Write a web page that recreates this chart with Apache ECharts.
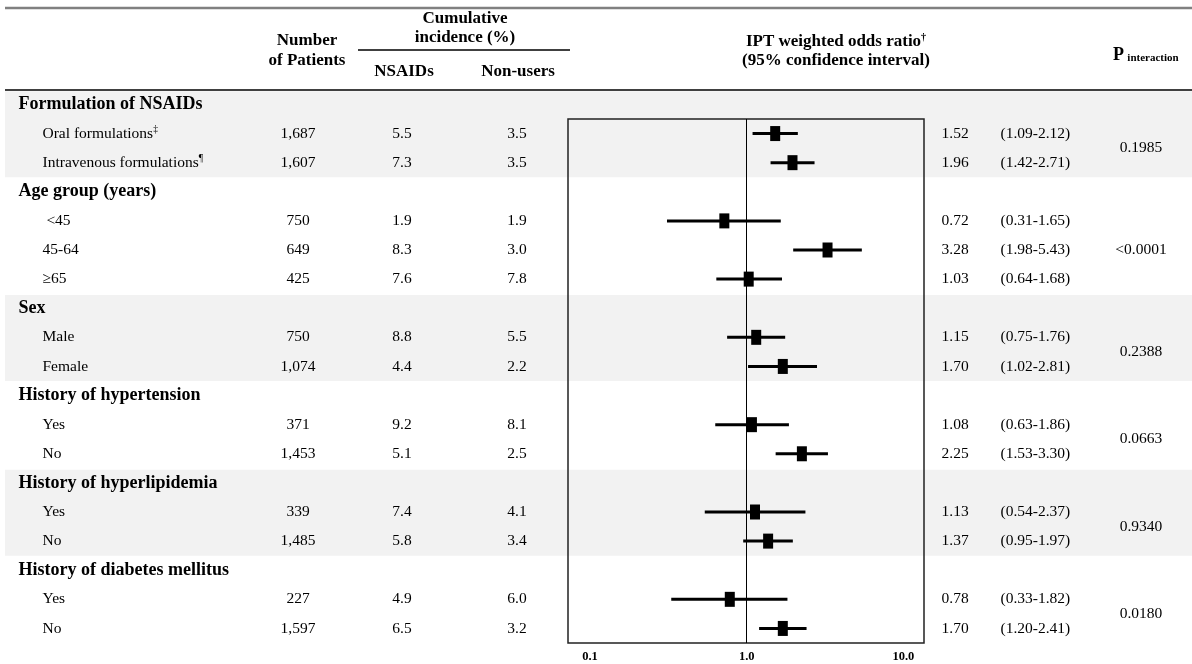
<!DOCTYPE html>
<html><head><meta charset="utf-8">
<script src="https://cdn.jsdelivr.net/npm/echarts@6/dist/echarts.min.js"></script>
<style>html,body{margin:0;padding:0;background:#fff}#c{width:1192px;height:664px}</style>
</head><body><div id="c"></div>
<script>
// ---------------- data ----------------
const groupNames = ['Formulation of NSAIDs', 'Age group (years)', 'Sex', 'History of hypertension', 'History of hyperlipidemia', 'History of diabetes mellitus'];
const subgroupLabels = ['Oral formulations', 'Intravenous formulations', ' <45', '45-64', '\u226565', 'Male', 'Female', 'Yes', 'No', 'Yes', 'No', 'Yes', 'No'];
const subgroupMarks = ['\u2021', '\u00b6', '', '', '', '', '', '', '', '', '', '', ''];
const subgroupGroup = [0, 0, 1, 1, 1, 2, 2, 3, 3, 4, 4, 5, 5];
const patients = [1687, 1607, 750, 649, 425, 750, 1074, 371, 1453, 339, 1485, 227, 1597];
const incidenceNSAIDs = ['5.5', '7.3', '1.9', '8.3', '7.6', '8.8', '4.4', '9.2', '5.1', '7.4', '5.8', '4.9', '6.5'];
const incidenceNonUsers = ['3.5', '3.5', '1.9', '3.0', '7.8', '5.5', '2.2', '8.1', '2.5', '4.1', '3.4', '6.0', '3.2'];
const oddsRatio = [1.52, 1.96, 0.72, 3.28, 1.03, 1.15, 1.70, 1.08, 2.25, 1.13, 1.37, 0.78, 1.70];
const ciLow = [1.09, 1.42, 0.31, 1.98, 0.64, 0.75, 1.02, 0.63, 1.53, 0.54, 0.95, 0.33, 1.20];
const ciHigh = [2.12, 2.71, 1.65, 5.43, 1.68, 1.76, 2.81, 1.86, 3.30, 2.37, 1.97, 1.82, 2.41];
const pInteraction = ['0.1985', '<0.0001', '0.2388', '0.0663', '0.9340', '0.0180'];
const shadedGroups = [0, 2, 4];
const axisTickValues = [0.1, 1, 10];
const axisTickLabels = ['0.1', '1.0', '10.0'];

// ---------------- layout ----------------
const FONT = 'Liberation Serif';
const INK = '#000';
const fmtNum = n => n.toLocaleString('en-US');
const fmt2 = n => n.toFixed(2);

const groupRow = [];
const subRow = [];
let r = 0;
groupNames.forEach((g, gi) => {
  groupRow.push(r++);
  subgroupGroup.forEach((sg, si) => { if (sg === gi) subRow[si] = r++; });
});
const nRows = r;
const groupEnd = groupNames.map((g, gi) => Math.max(...subRow.filter((x, si) => subgroupGroup[si] === gi)));
const pRow = groupNames.map((g, gi) => {
  const rows = subRow.filter((x, si) => subgroupGroup[si] === gi);
  return rows.reduce((a, b) => a + b, 0) / rows.length;
});

const COL = { group: 18, sub: 42, patients: 298, nsaid: 402, nonuser: 517, or: 941, ci: 1000, p: 1141 };

const FOREST = { left: 568, top: 119, width: 356, height: 524 };
const rowH = FOREST.height / (nRows - 1);
const TABLE_TOP = FOREST.top - rowH;

const ROW_FS = 15.5;
const baseLabel = { fontFamily: FONT, fontSize: ROW_FS, color: INK };

function textSeries(name, data, align, extra) {
  return {
    name, type: 'scatter', xAxisIndex: 0, yAxisIndex: 0,
    symbolSize: 1, itemStyle: { color: 'rgba(0,0,0,0)', opacity: 1 }, silent: true, z: 3,
    data,
    label: Object.assign({
      show: true,
      position: align === 'left' ? 'right' : 'inside',
      distance: 0,
      formatter: p => p.value[2]
    }, baseLabel, extra || {})
  };
}

const shadeAreas = shadedGroups.map(gi => [
  { xAxis: 5, yAxis: groupRow[gi] - 0.45 },
  { xAxis: 1192, yAxis: groupEnd[gi] + 0.5 }
]);

const series = [
  {
    name: 'shade', type: 'scatter', xAxisIndex: 0, yAxisIndex: 0, data: [], silent: true, z: 0,
    markArea: { silent: true, itemStyle: { color: '#f2f2f2', opacity: 1 }, data: shadeAreas }
  },
  textSeries('groups', groupNames.map((g, gi) => [COL.group, groupRow[gi], g]), 'left', { fontWeight: 'bold', fontSize: 18 }),
  textSeries('subgroups', subgroupLabels.map((s, si) => [COL.sub, subRow[si], s, subgroupMarks[si]]), 'left', {
    formatter: p => p.value[3] ? p.value[2] + '{sup|' + p.value[3] + '}' : p.value[2],
    lineHeight: 19,
    rich: { sup: { fontFamily: FONT, fontSize: 9.5, verticalAlign: 'top', lineHeight: 19, color: INK } }
  }),
  textSeries('patients', patients.map((v, si) => [COL.patients, subRow[si], fmtNum(v)]), 'center'),
  textSeries('nsaids', incidenceNSAIDs.map((v, si) => [COL.nsaid, subRow[si], v]), 'center'),
  textSeries('nonusers', incidenceNonUsers.map((v, si) => [COL.nonuser, subRow[si], v]), 'center'),
  textSeries('or', oddsRatio.map((v, si) => [COL.or, subRow[si], fmt2(v)]), 'left'),
  textSeries('ci', ciLow.map((v, si) => [COL.ci, subRow[si], '(' + fmt2(v) + '-' + fmt2(ciHigh[si]) + ')']), 'left'),
  textSeries('p', pInteraction.map((v, gi) => [COL.p, pRow[gi], v]), 'center'),
  {
    name: 'ci-lines', type: 'custom', xAxisIndex: 1, yAxisIndex: 1, silent: true, z: 4,
    data: ciLow.map((v, si) => [v, ciHigh[si], subRow[si]]),
    encode: { x: [0, 1], y: 2 },
    renderItem: (params, api) => {
      const a = api.coord([api.value(0), api.value(2)]);
      const b = api.coord([api.value(1), api.value(2)]);
      return { type: 'line', shape: { x1: a[0], y1: a[1], x2: b[0], y2: b[1] }, style: { stroke: '#000', lineWidth: 3 } };
    }
  },
  {
    name: 'odds-ratio', type: 'scatter', xAxisIndex: 1, yAxisIndex: 1, silent: true, z: 5,
    symbol: 'rect', symbolSize: [10, 15], itemStyle: { color: '#000', opacity: 1 },
    data: oddsRatio.map((v, si) => [v, subRow[si]]),
    markLine: {
      silent: true, symbol: ['none', 'none'], label: { show: false },
      lineStyle: { color: '#000', width: 1, type: 'solid', opacity: 1 },
      data: [{ xAxis: 1 }]
    }
  }
];

const HDR = 'bold 17px "Liberation Serif"';
const hdrText = (x, y, text) => ({ type: 'text', z: 100, x, y, style: { text, font: HDR, fill: INK, textAlign: 'center', textVerticalAlign: 'middle' } });

const option = {
  animation: false,
  backgroundColor: '#fff',
  grid: [
    { left: 0, right: 0, top: TABLE_TOP, height: rowH * nRows, show: false },
    { left: FOREST.left, top: FOREST.top, width: FOREST.width, height: FOREST.height, show: true,
      borderColor: '#222', borderWidth: 1.5, backgroundColor: 'rgba(0,0,0,0)', z: 5 }
  ],
  xAxis: [
    { gridIndex: 0, type: 'value', min: 0, max: 1192, show: false },
    { gridIndex: 1, type: 'log', logBase: 10,
      min: Math.pow(10, -1.1404), max: Math.pow(10, 1.1315),
      axisLine: { show: false }, axisTick: { show: false }, splitLine: { show: false },
      axisLabel: {
        customValues: axisTickValues,
        formatter: v => axisTickLabels[axisTickValues.findIndex(t => Math.abs(t - v) < 1e-9)] || '',
        fontFamily: FONT, fontSize: 12.5, fontWeight: 'bold', color: INK, margin: 7
      }
    }
  ],
  yAxis: [
    { gridIndex: 0, type: 'value', inverse: true, min: -0.5, max: nRows - 0.5, show: false },
    { gridIndex: 1, type: 'value', inverse: true, min: 0.5, max: nRows - 0.5, show: false }
  ],
  graphic: [
    { type: 'line', z: 100, shape: { x1: 5, y1: 8, x2: 1192, y2: 8 }, style: { stroke: '#808080', lineWidth: 2.5 } },
    { type: 'line', z: 100, shape: { x1: 5, y1: 90, x2: 1192, y2: 90 }, style: { stroke: '#000', lineWidth: 1.5 } },
    { type: 'line', z: 100, shape: { x1: 358, y1: 50, x2: 570, y2: 50 }, style: { stroke: '#000', lineWidth: 1.5 } },
    hdrText(307, 41, 'Number'),
    hdrText(307, 61, 'of Patients'),
    hdrText(465, 19, 'Cumulative'),
    hdrText(465, 38, 'incidence (%)'),
    hdrText(404, 72, 'NSAIDs'),
    hdrText(518, 72, 'Non-users'),
    { type: 'text', z: 100, x: 836, y: 42, style: {
      text: 'IPT weighted odds ratio{sup|\u2020}', fontFamily: FONT, fontSize: 17, fontWeight: 'bold', fill: INK,
      textAlign: 'center', textVerticalAlign: 'middle', lineHeight: 20,
      rich: { sup: { fontFamily: FONT, fontSize: 10, fontWeight: 'bold', verticalAlign: 'top', lineHeight: 20, fill: INK } } } },
    hdrText(836, 61, '(95% confidence interval)'),
    { type: 'text', z: 100, x: 1113, y: 53, style: {
      text: '{p|P} {s|interaction}', textAlign: 'left', textVerticalAlign: 'middle', fill: INK,
      rich: {
        p: { fontFamily: FONT, fontSize: 18, fontWeight: 'bold', verticalAlign: 'bottom', lineHeight: 22, fill: INK },
        s: { fontFamily: FONT, fontSize: 11, fontWeight: 'bold', verticalAlign: 'bottom', lineHeight: 19, fill: INK }
      } } }
  ],
  series
};

const chart = echarts.init(document.getElementById('c'), null, { renderer: 'canvas' });
chart.setOption(option);
</script>
</body></html>
